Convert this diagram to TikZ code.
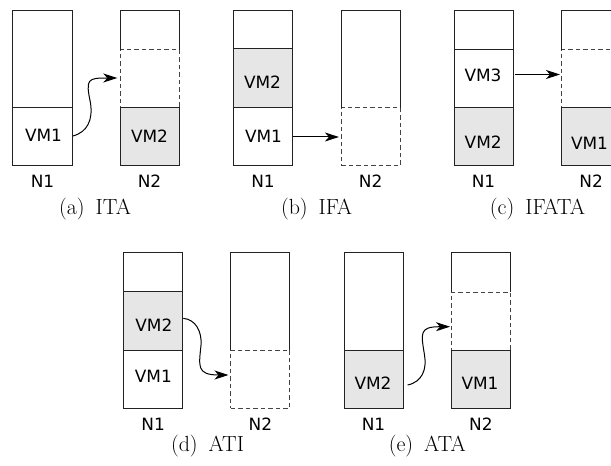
\documentclass[tikz,border=0pt]{standalone}
\usepackage{fontspec}
\newfontfamily\vmfont{DejaVu Sans}
\usetikzlibrary{arrows.meta,calc}
\definecolor{vmgray}{HTML}{E6E6E6}
\definecolor{boxc}{HTML}{222222}
\definecolor{dashc}{HTML}{444444}
\tikzset{
  slot/.style={draw=boxc, line width=1bp, minimum width=59bp, inner sep=0pt, outer sep=0pt},
  vmslot/.style={slot, fill=vmgray},
  ghost/.style={draw=dashc, dash pattern=on 4.5bp off 3bp, line width=1bp, minimum width=59bp, inner sep=0pt, outer sep=0pt},
  freeslot/.style={minimum width=59bp, inner sep=0pt, outer sep=0pt},
  boxline/.style={draw=boxc, line width=1bp},
  vmtext/.style={font=\vmfont\fontsize{17}{20}\selectfont, text height=12.4bp, text depth=0pt, inner sep=0pt},
  captext/.style={font=\fontsize{22}{26}\selectfont, anchor=base, inner sep=0pt},
  arr/.style={-{Stealth[length=14bp,width=9bp,inset=4bp]}, line width=1bp, draw=black}
}
\begin{document}
\begin{tikzpicture}[x=1bp,y=-1bp]
\useasboundingbox (0,0) rectangle (611,466);
\clip (0,0) rectangle (611,466);
\fill[white] (0,0) rectangle (611,466);

% ---------- (a) ITA ----------
\node[slot, minimum height=97.3bp] (a1top) at (42.5,59.35) {};
\node[slot, minimum height=58bp] (a1vm1) at (42.5,137) {};
\node[freeslot, minimum height=39.3bp] (a2top) at (149.5,30.35) {};
\node[ghost, minimum height=58bp] (a2ghost) at (149.5,79) {};
\node[vmslot, minimum height=58bp] (a2vm2) at (149.5,137) {};
\draw[boxline] (a2top.south west) |- (a2top.north east) -- (a2top.south east);
\node[vmtext] (a1vm1t) at (43.5,135.5) {VM1};
\node[vmtext] (a2vm2t) at (149.5,136.8) {VM2};
\node[vmtext] (a1n) at (42.5,181) {N1};
\node[vmtext] (a2n) at (149.5,181) {N2};
\node[captext] (acap) at (95,214.3) {(a)\enspace ITA};
\coordinate (amid) at (90.5,103);
\draw[arr] ($(a1vm1.east)+(0.9,-1)$) .. controls +(14.6,-4) and +(2.5,17) .. (amid)
  .. controls +(-5,-24) and +(-30,0) .. ($(a2ghost.west)+(-2.7,-1)$);

% ---------- (b) IFA ----------
\node[slot, minimum height=38.3bp] (b1top) at (263,29.85) {};
\node[vmslot, minimum height=59bp] (b1vm2) at (263,78.5) {};
\node[slot, minimum height=58bp] (b1vm1) at (263,137) {};
\node[freeslot, minimum height=97.3bp] (b2top) at (370.7,59.35) {};
\node[ghost, minimum height=58bp] (b2ghost) at (370.7,137) {};
\draw[boxline] (b2top.south west) |- (b2top.north east) -- (b2top.south east);
\node[vmtext] (b1vm2t) at (262.5,82) {VM2};
\node[vmtext] (b1vm1t) at (263.5,136) {VM1};
\node[vmtext] (b1n) at (263,181) {N1};
\node[vmtext] (b2n) at (370.7,181) {N2};
\node[captext] (bcap) at (316.5,214.3) {(b)\enspace IFA};
\draw[arr] ($(b1vm1.east)+(0.7,0)$) -- ($(b2ghost.west)+(-2.3,0)$);

% ---------- (c) IFATA ----------
\node[slot, minimum height=39.3bp] (c1top) at (483.5,30.35) {};
\node[slot, minimum height=58bp] (c1vm3) at (483.5,79) {};
\node[vmslot, minimum height=58bp] (c1vm2) at (483.5,137) {};
\node[freeslot, minimum height=39.3bp] (c2top) at (591.2,30.35) {};
\node[ghost, minimum height=58bp] (c2ghost) at (591.2,79) {};
\node[vmslot, minimum height=58bp] (c2vm1) at (591.2,137) {};
\draw[boxline] (c2top.south west) |- (c2top.north east) -- (c2top.south east);
\node[vmtext] (c1vm3t) at (483,75) {VM3};
\node[vmtext] (c1vm2t) at (483.2,142.5) {VM2};
\node[vmtext] (c2vm1t) at (589.5,143) {VM1};
\node[vmtext] (c1n) at (483.5,181) {N1};
\node[vmtext] (c2n) at (591.2,181) {N2};
\node[captext] (ccap) at (537.5,214.3) {(c)\enspace IFATA};
\draw[arr] ($(c1vm3.east)+(2.3,-4.5)$) -- ($(c2ghost.west)+(-1.7,-4.5)$);

% ---------- (d) ATI ----------
\node[slot, minimum height=39bp] (d1top) at (153.2,272.2) {};
\node[vmslot, minimum height=58.3bp] (d1vm2) at (153.2,320.85) {};
\node[slot, minimum height=58.3bp] (d1vm1) at (153.2,379.15) {};
\node[freeslot, minimum height=97.3bp] (d2top) at (260.4,301.35) {};
\node[ghost, minimum height=58.3bp] (d2ghost) at (260.4,379.15) {};
\draw[boxline] (d2top.south west) |- (d2top.north east) -- (d2top.south east);
\node[vmtext] (d1vm2t) at (153.8,325) {VM2};
\node[vmtext] (d1vm1t) at (153.3,376.7) {VM1};
\node[vmtext] (d1n) at (153.2,424.5) {N1};
\node[vmtext] (d2n) at (260.4,424.5) {N2};
\node[captext] (dcap) at (207.5,451) {(d)\enspace ATI};
\coordinate (dmid) at (201,345);
\draw[arr] ($(d1vm2.east)+(0.6,-2.5)$) .. controls +(12,1) and +(1,-14) .. (dmid)
  .. controls +(-2,21) and +(-32.3,0) .. ($(d2ghost.west)+(-2.4,-4.15)$);

% ---------- (e) ATA ----------
\node[slot, minimum height=98bp] (e1top) at (373.5,301.7) {};
\node[vmslot, minimum height=57.6bp] (e1vm2) at (373.5,379.5) {};
\node[freeslot, minimum height=39.6bp] (e2top) at (480.8,272.5) {};
\node[ghost, minimum height=58.4bp] (e2ghost) at (480.8,321.5) {};
\node[vmslot, minimum height=57.6bp] (e2vm1) at (480.8,379.5) {};
\draw[boxline] (e2top.south west) |- (e2top.north east) -- (e2top.south east);
\node[vmtext] (e1vm2t) at (373,383.3) {VM2};
\node[vmtext] (e2vm1t) at (480,383) {VM1};
\node[vmtext] (e1n) at (373.5,424.5) {N1};
\node[vmtext] (e2n) at (480.8,424.5) {N2};
\node[captext] (ecap) at (427.3,451) {(e)\enspace ATA};
\coordinate (emid) at (424.5,355);
\draw[arr] ($(e1vm2.east)+(4.6,5.5)$) .. controls +(14.7,-3) and +(2.5,14) .. (emid)
  .. controls +(-3.5,-22) and +(-31,0) .. ($(e2ghost.west)+(-1.3,5.2)$);
\end{tikzpicture}
\end{document}
